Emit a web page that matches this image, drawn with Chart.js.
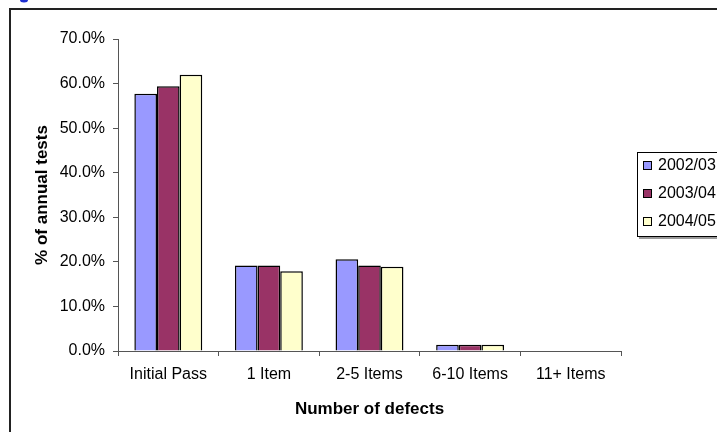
<!DOCTYPE html>
<html>
<head>
<meta charset="utf-8">
<script src="https://cdn.jsdelivr.net/npm/chart.js@4.4.1/dist/chart.umd.min.js"></script>
<style>
  html, body { margin: 0; padding: 0; background: #fff; }
  #wrap { width: 717px; height: 432px; position: relative; }
</style>
</head>
<body>
<div id="wrap"><canvas id="chart-1" width="717" height="432"></canvas></div>
<script>
const categories = ["Initial Pass", "1 Item", "2-5 Items", "6-10 Items", "11+ Items"];
const seriesNames = ["2002/03", "2003/04", "2004/05"];
const values0203 = [57.7, 19.2, 20.6, 1.4, 0.0];
const values0304 = [59.4, 19.2, 19.2, 1.4, 0.0];
const values0405 = [62.0, 17.9, 18.9, 1.4, 0.0];
const seriesColors = ["#9999FF", "#993366", "#FFFFCC"];

const FONT = "'Liberation Sans', Arial, sans-serif";

// outer frame + legend, excel style
const framePlugin = {
  id: "frame",
  beforeDraw(chart) {
    const c = chart.ctx;
    c.save();
    c.fillStyle = "#fff";
    c.fillRect(0, 0, chart.width, chart.height);
    c.strokeStyle = "#222";
    c.lineWidth = 2;
    c.beginPath();
    c.moveTo(10, 432);
    c.lineTo(10, 9);
    c.lineTo(717, 9);
    c.stroke();
    c.fillStyle = "#1f2fd0";
    c.beginPath();
    c.ellipse(24, 0, 4, 2.5, 0, 0, Math.PI);
    c.fill();
    c.restore();
  },
  afterDraw(chart) {
    const c = chart.ctx;
    c.save();
    c.fillStyle = "#999";
    c.fillRect(639, 154, 80, 85);
    c.fillStyle = "#fff";
    c.fillRect(637, 152, 82, 85);
    c.strokeStyle = "#000";
    c.lineWidth = 1;
    c.strokeRect(637.5, 152.5, 90, 84);
    c.font = "16px " + FONT;
    c.textBaseline = "middle";
    chart.data.datasets.forEach((ds, i) => {
      const y = 165 + i * 28;
      c.fillStyle = ds.backgroundColor;
      c.fillRect(643, y - 4, 9, 9);
      c.strokeStyle = "#000";
      c.strokeRect(643.5, y - 3.5, 8, 8);
      c.fillStyle = "#000";
      c.fillText(ds.label, 658, y + 1);
    });
    c.restore();
  }
};

const ctx1 = document.getElementById("chart-1").getContext("2d");
const myChart = new Chart(ctx1, {
  type: "bar",
  data: {
    labels: categories,
    datasets: [values0203, values0304, values0405].map((vals, i) => ({
      label: seriesNames[i],
      data: vals,
      backgroundColor: seriesColors[i],
      borderColor: "#000",
      borderWidth: 1.5,
      categoryPercentage: 0.675,
      barPercentage: 1.0
    }))
  },
  options: {
    responsive: false,
    animation: false,
    layout: { padding: { left: 0, top: 39, right: 96, bottom: 0 } },
    plugins: {
      legend: { display: false },
      tooltip: { enabled: false }
    },
    scales: {
      x: {
        afterFit(scale) { scale.height = 81; },
        grid: {
          offset: true,
          drawOnChartArea: false,
          tickLength: 5,
          color: "#555"
        },
        border: { color: "#555", width: 1 },
        ticks: {
          color: "#000",
          font: { family: FONT, size: 16 },
          padding: 9,
          maxRotation: 0
        },
        title: {
          display: true,
          text: "Number of defects",
          color: "#000",
          font: { family: FONT, size: 17, weight: "bold" },
          padding: { top: 0, bottom: 12 }
        }
      },
      y: {
        min: 0,
        max: 70,
        afterFit(scale) { scale.width = 118; },
        grid: {
          drawOnChartArea: false,
          tickLength: 5,
          color: "#555"
        },
        border: { color: "#555", width: 1 },
        ticks: {
          stepSize: 10,
          color: "#000",
          font: { family: FONT, size: 16 },
          padding: 8,
          callback: v => v.toFixed(1) + "%"
        },
        title: {
          display: true,
          text: "% of annual tests",
          color: "#000",
          font: { family: FONT, size: 17, weight: "bold" },
          padding: { top: 32, bottom: 0 }
        }
      }
    }
  },
  plugins: [framePlugin]
});
</script>
</body>
</html>
